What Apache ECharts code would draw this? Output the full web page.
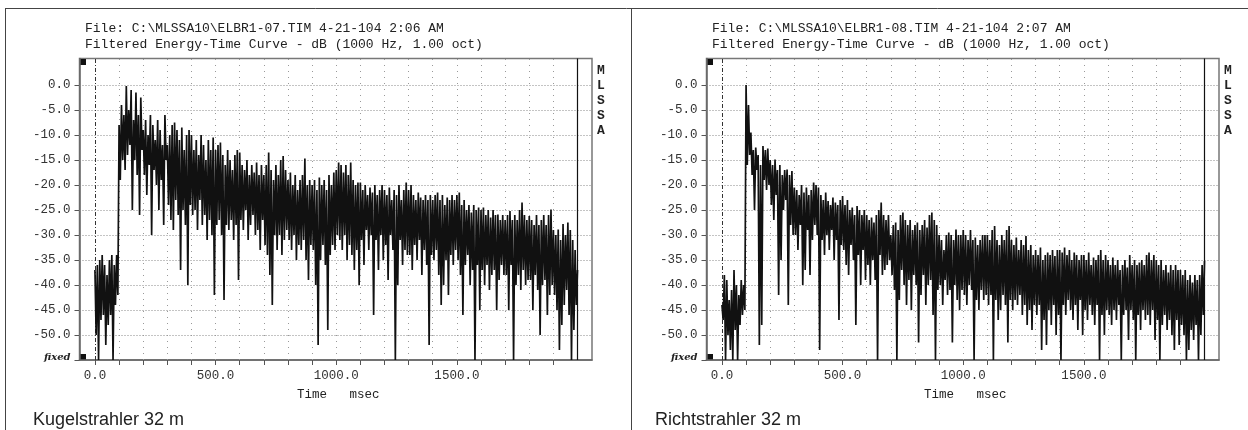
<!DOCTYPE html>
<html><head><meta charset="utf-8">
<script src="https://cdn.jsdelivr.net/npm/echarts@6/dist/echarts.min.js"></script>
<style>html,body{margin:0;padding:0;background:#fff}#c{width:1248px;height:430px}</style>
</head><body><div id="c"></div>
<script>
// ---------------- DATA ----------------
const stepMs = 5;          // sample spacing of the energy-time curve (ms)
const endMs = 2000;        // end of record marker
const fileLines = ['File: C:\\MLSSA10\\ELBR1-07.TIM 4-21-104 2:06 AM', 'File: C:\\MLSSA10\\ELBR1-08.TIM 4-21-104 2:07 AM'];
const curveTitle = 'Filtered Energy-Time Curve - dB (1000 Hz, 1.00 oct)';
const captions = ['Kugelstrahler 32 m', 'Richtstrahler 32 m'];
const xLabelValues = [0, 500, 1000, 1500];
const xTickValues = [0,100,200,300,400,500,600,700,800,900,1000,1100,1200,1300,1400,1500,1600,1700,1800,1900];
const xGridValues = [100,200,300,400,500,600,700,800,900,1000,1100,1200,1300,1400,1500,1600,1700,1800,1900];
const yTickValues = [0,-5,-10,-15,-20,-25,-30,-35,-40,-45,-50,-55];
const yGridValues = [0,-5,-10,-15,-20,-25,-30,-35,-40,-45,-50];
const bottomLabel = 'fixed';
const sideLabel = 'MLSSA';
const axisName = 'Time   msec';

// Kugelstrahler 32 m (dB, one value per 5 ms, rows of 100 ms)
const kugel = [
-37,-50,-36,-55,-35,-47,-34,-46,-36,-52,-38,-48,-35,-46,-34,-55,-36,-44,-34,-42,
-8,-19,-4,-15,-6,-17,-0.2,-14,-5,-12,-1,-25,-7,-15,-1.5,-18,-6,-26,-2.5,-13,
-9,-18,-7,-22,-10,-16,-6,-30,-8,-17,-11,-20,-7,-25,-9,-19,-12,-28,-6,-15,
-12,-24,-10,-27,-8,-29,-7.5,-23,-9,-26,-11,-37,-8.5,-25,-13,-28,-10,-40,-9,-24,
-10,-26,-13,-25,-11,-29,-14,-23,-10,-28,-12,-26,-15,-31,-11,-27,-13,-30,-10.5,-42,
-13,-28,-12,-27,-11.5,-30,-14,-43,-16,-28,-13,-29,-15,-27,-17,-31,-14,-28,-13,-39,
-13.5,-27,-16,-29,-17,-25,-15,-31,-18,-28,-16,-26,-17.5,-30,-15.5,-29,-18,-33,-16,-27,
-18,-32,-16,-34,-13.5,-38,-17,-44,-19,-30,-16,-33,-18,-30,-15,-34,-14.2,-31,-17,-29,
-19,-31,-17.5,-33,-20,-30,-18,-35,-21,-32,-19,-33,-18,-31,-14.7,-35,-20,-39,-19,-32,
-20,-33,-19,-40,-21,-52,-18.5,-35,-20,-32,-19,-36,-21,-49,-18,-34,-20,-32,-17.5,-33,
-17,-30,-15.5,-31,-16,-33,-17.5,-30,-16,-35,-18,-32,-15.5,-34,-19,-37,-20,-33,-19.5,-40,
-19.5,-31,-21,-36,-20,-29,-22,-33,-20.5,-30,-21.5,-46,-20,-31,-22,-37,-21,-30,-20,-35,
-21,-32,-22,-39,-20.5,-30,-23,-33,-21,-55,-22,-40,-20,-31,-23,-36,-21,-33,-19.5,-34,
-21,-34,-20,-37,-22,-32,-23,-35,-21.5,-31,-22.5,-38,-23,-33,-22,-36,-23,-52,-22,-34,
-23,-35,-22,-33,-21.5,-38,-23,-44,-22,-40,-24,-35,-22.5,-42,-23,-34,-22,-36,-23,-33,
-22,-35,-21.5,-38,-24,-46,-23,-36,-25,-34,-24,-40,-25.5,-37,-24,-55,-25,-36,-24.5,-45,
-25,-37,-24.5,-40,-26,-36,-25,-41,-26.5,-38,-25,-37,-26,-45,-25.9,-39,-27,-36,-26,-38,
-27,-38,-26,-45,-25.2,-36,-27,-55,-26,-40,-27,-38,-25,-41,-23.5,-37,-26,-40,-27,-39,
-26.2,-39,-27,-45,-28,-38,-26,-41,-28,-50,-27,-40,-26,-39,-28,-46,-26,-42,-24.9,-40,
-29,-42,-30,-45,-28.9,-53,-31,-48,-27.8,-44,-30,-41,-27.5,-46,-29,-55,-31,-49,-33,-44,
-37
];

// Richtstrahler 32 m
const richt = [
-44,-47,-38,-55,-39,-50,-43,-53,-41,-55,-37,-49,-40,-55,-42,-48,-39,-46,-40,-45,
0,-16,-4,-14,-9.5,-18,-13,-25,-12.5,-17,-14,-52,-16,-48,-12.2,-19,-13,-21,-12.7,-20,
-15,-24,-16,-27,-14.9,-22,-17,-42,-16,-35,-18,-25,-17,-23,-16.9,-44,-18,-28,-17.2,-30,
-20.5,-30,-21,-33,-22,-28,-20,-40,-21.5,-37,-20.5,-29,-22,-38,-21,-31,-19.5,-28,-20,-30,
-20.5,-53,-22,-31,-23,-34,-21.5,-30,-23.2,-33,-24,-29,-22.5,-35,-23.5,-31,-24,-47,-23,-32,
-22.2,-33,-24,-36,-23,-38,-25,-32,-24.5,-35,-26,-48,-24.2,-34,-25,-40,-26,-33,-25,-39,
-26,-36,-27,-40,-26.5,-35,-27.5,-39,-26,-55,-25,-34,-23.5,-38,-26,-37,-27,-36,-26,-35,
-30,-38,-28,-41,-27.5,-55,-29,-43,-26,-37,-25.5,-40,-27,-44,-28,-39,-27,-45,-29,-38,
-28,-40,-27.5,-51.5,-29,-42,-28,-38,-27,-44,-28.5,-40,-26,-39,-25.5,-46,-27,-55,-28,-41,
-30,-40,-31,-44,-33,-39,-30,-42,-29.5,-41,-30,-51.5,-31,-40,-28.9,-43,-30,-45,-30,-41,
-29,-42,-30,-44,-31,-40,-29,-41,-31,-55,-30.5,-43,-32,-45,-31,-41,-30,-43,-30,-42,
-30,-44,-31,-42,-29,-55,-28.2,-43,-31,-47,-32,-45,-30,-42,-31,-44,-29,-51.5,-28.2,-43,
-31,-45,-32,-43,-30.5,-44,-33,-42,-31,-46,-32,-44,-30.2,-48,-33,-45,-32,-49,-34,-44,
-33,-46,-34,-44,-32.5,-53,-35,-47,-34,-52,-33.5,-45,-34,-48,-33,-44,-34.2,-50,-33,-46,
-33,-55,-33.5,-44,-32.5,-46,-34,-43,-33,-45,-35,-47,-33.5,-44,-34,-49,-35,-43,-34,-50,
-34,-45,-35,-47,-33.5,-44,-36,-46,-34.5,-48,-35,-44,-34,-55,-33,-46,-35,-50,-34,-45,
-35,-46,-36,-48,-34.5,-45,-36,-47,-35,-44,-37,-55,-36,-46,-35,-45,-36.5,-51,-34,-45,
-36,-47,-35,-55,-36,-46,-35.5,-49,-35,-45,-36,-47,-34,-46,-33.5,-48,-35,-45,-34,-51,
-35,-47,-36,-55,-35,-48,-37,-46,-36,-49,-37.5,-47,-36,-50,-37,-53,-36,-47,-37,-52,
-37,-48,-38,-50,-37,-55,-39,-53,-38,-49,-39.5,-51,-38,-48,-39,-55,-38,-50,-36,-46,
-35.2
];

// ---------------- CHART ----------------
const mono = '"Liberation Mono", "DejaVu Sans Mono", monospace';
const chart = echarts.init(document.getElementById('c'), null, {renderer: 'canvas'});

const panels = [
  {dx: 0,   values: kugel, file: fileLines[0], caption: captions[0], capX: 33},
  {dx: 627, values: richt, file: fileLines[1], caption: captions[1], capX: 655}
];

const grids = [], xAxes = [], yAxes = [], series = [], graphics = [];

// outer table borders
graphics.push(
  {type: 'line', shape: {x1: 5, y1: 8.5, x2: 1248, y2: 8.5}, style: {stroke: '#444', lineWidth: 1}},
  {type: 'line', shape: {x1: 5.5, y1: 8, x2: 5.5, y2: 430}, style: {stroke: '#444', lineWidth: 1}},
  {type: 'line', shape: {x1: 631.5, y1: 8, x2: 631.5, y2: 430}, style: {stroke: '#444', lineWidth: 1}}
);

panels.forEach((p, i) => {
  const left = 79.5 + p.dx;
  grids.push({left: left, top: 58.5, width: 512.5, height: 301.5, show: true,
    borderColor: '#777', borderWidth: 1.5, backgroundColor: 'transparent'});
  xAxes.push({
    type: 'value', gridIndex: i, min: -64, max: 2060,
    axisLine: {show: true, onZero: false, lineStyle: {color: '#666', width: 1.5}},
    axisTick: {show: true, inside: false, length: 5, customValues: xTickValues, lineStyle: {color: '#555'}},
    axisLabel: {show: true, customValues: xLabelValues, margin: 9, formatter: v => v.toFixed(1),
      fontFamily: mono, fontSize: 12.5, color: '#333'},
    splitLine: {show: false}
  });
  yAxes.push({
    type: 'value', gridIndex: i, min: -55, max: 5.3,
    axisLine: {show: true, onZero: false, lineStyle: {color: '#666', width: 1.5}},
    axisTick: {show: true, inside: false, length: 5, customValues: yTickValues, lineStyle: {color: '#555'}},
    axisLabel: {show: true, customValues: yTickValues, margin: 9,
      formatter: v => (v === -55 ? '{f|' + bottomLabel + '}' : v.toFixed(1)),
      fontFamily: mono, fontSize: 12.5, color: '#333',
      rich: {f: {fontFamily: '"DejaVu Serif", serif', fontStyle: 'italic', fontWeight: 'bold', fontSize: 10, color: '#222', padding: [0, 0, 5, 0]}}},
    splitLine: {show: false}
  });
  const mlData = []
    .concat(yGridValues.map(v => ({yAxis: v, lineStyle: {color: '#888', type: [1, 2], width: 1}})))
    .concat(xGridValues.map(v => ({xAxis: v, lineStyle: {color: '#999', type: [1, 5], width: 1}})))
    .concat([{xAxis: 0, lineStyle: {color: '#333', type: [4, 2, 1, 2], width: 1}},
             {xAxis: endMs, lineStyle: {color: '#111', type: 'solid', width: 1.2}}]);
  series.push({
    type: 'line', xAxisIndex: i, yAxisIndex: i, z: 3,
    data: p.values.map((v, k) => [k * stepMs, v]),
    showSymbol: false, symbol: 'none', animation: false,
    lineStyle: {color: '#111', width: 1.7, join: 'miter', miterLimit: 2}, clip: true,
    markLine: {silent: true, z: 1, symbol: ['none', 'none'], label: {show: false}, animation: false,
      emphasis: {disabled: true}, data: mlData}
  });
  // texts
  graphics.push(
    {type: 'text', x: 85 + p.dx, y: 29, style: {text: p.file, fontFamily: mono, fontSize: 13, fill: '#222', verticalAlign: 'middle'}},
    {type: 'text', x: 85 + p.dx, y: 45, style: {text: curveTitle, fontFamily: mono, fontSize: 13, fill: '#222', verticalAlign: 'middle'}},
    {type: 'text', x: 597 + p.dx, y: 63, style: {text: sideLabel.split('').join('\n'), fontFamily: mono, fontSize: 13, fontWeight: 'bold', lineHeight: 15, fill: '#222', verticalAlign: 'top'}},
    {type: 'text', x: 297 + p.dx, y: 395, style: {text: axisName, fontFamily: mono, fontSize: 12.5, fill: '#222', verticalAlign: 'middle'}},
    {type: 'text', x: p.capX, y: 420, style: {text: p.caption, fontFamily: '"Liberation Sans", Arial, sans-serif', fontSize: 18, fill: '#222', verticalAlign: 'middle'}},
    {type: 'rect', shape: {x: 80 + p.dx, y: 59, width: 6, height: 6}, style: {fill: '#111'}},
    {type: 'rect', shape: {x: 80 + p.dx, y: 354, width: 6, height: 6}, style: {fill: '#111'}}
  );
});

chart.setOption({
  animation: false,
  backgroundColor: '#fff',
  grid: grids, xAxis: xAxes, yAxis: yAxes, series: series,
  graphic: graphics
});
</script></body></html>
